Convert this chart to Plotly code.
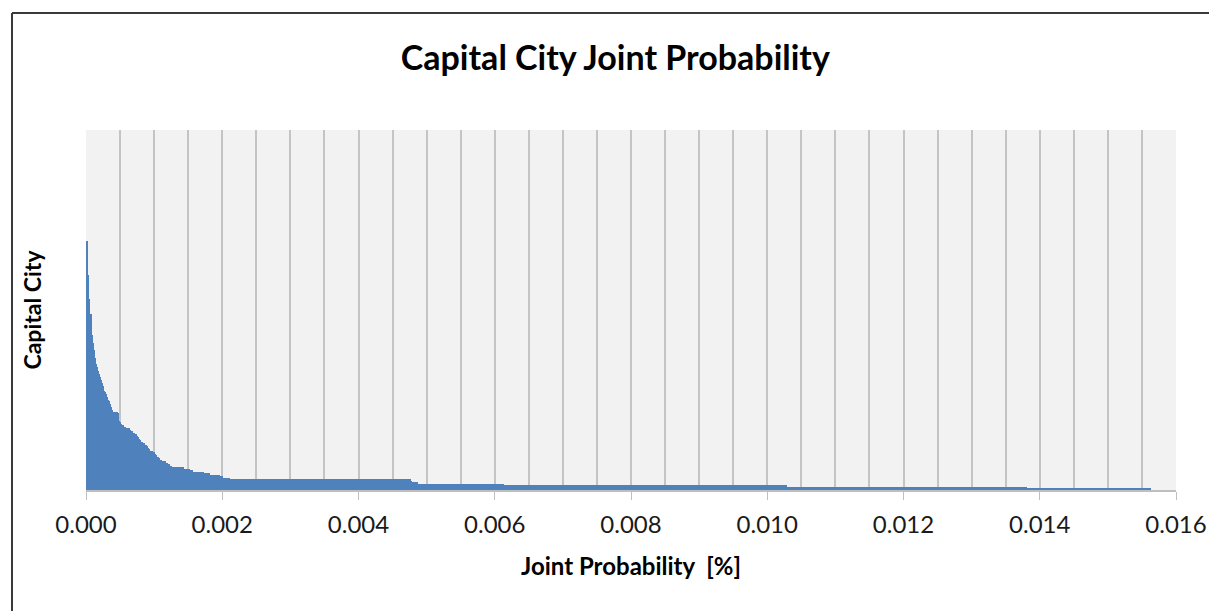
import plotly.graph_objects as go

# Joint probability per capital city, largest first (values in %)
joint_prob = [
    0.01563, 0.01381, 0.01029, 0.00614, 0.00487, 0.00479, 0.00477, 0.00211, 0.00201, 0.00197,
    0.00182, 0.00173, 0.00157, 0.00153, 0.00144, 0.00126, 0.00123, 0.00120, 0.00117, 0.00112,
    0.00109, 0.00107, 0.00104, 0.00103, 0.00101, 0.00098, 0.00094, 0.00092, 0.00091, 0.00090,
    0.00087, 0.00084, 0.00081, 0.00079, 0.00078, 0.00076, 0.00075, 0.00072, 0.00069, 0.00066,
    0.00065, 0.00059, 0.00056, 0.00053, 0.00051, 0.00050, 0.00048, 0.00048, 0.00048, 0.00048,
    0.00048, 0.00047, 0.000396, 0.000385, 0.000377, 0.000370, 0.000364, 0.000357, 0.000346, 0.000336,
    0.000327, 0.000319, 0.000307, 0.000301, 0.000292, 0.000283, 0.000270, 0.000264, 0.000257, 0.000250,
    0.000244, 0.000236, 0.000228, 0.000220, 0.000213, 0.000207, 0.000200, 0.000194, 0.000186, 0.000182,
    0.000176, 0.000170, 0.000163, 0.000157, 0.000154, 0.000150, 0.000145, 0.000141, 0.000137, 0.000134,
    0.000131, 0.000128, 0.000125, 0.000123, 0.000120, 0.000116, 0.000115, 0.000112, 0.000109, 0.000106,
    0.000103, 0.000101, 0.000098, 0.000095, 0.000094, 0.000092, 0.000091, 0.000090, 0.000088, 0.000087,
    0.000087, 0.000085, 0.000085, 0.000084, 0.000084, 0.000082, 0.000081, 0.000062, 0.000062, 0.000060,
    0.000060, 0.000059, 0.000059, 0.000059, 0.000057, 0.000057, 0.000056, 0.000044, 0.000044, 0.000043,
    0.000043, 0.000043, 0.000041, 0.000041, 0.000041, 0.000041, 0.000040, 0.000040, 0.000040, 0.000040,
    0.000040, 0.000038, 0.000038, 0.000029, 0.000029, 0.000028, 0.000028, 0.000028, 0.000028, 0.000026,
    0.000026, 0.000026, 0.000025, 0.000025, 0.000025, 0.000023, 0.000023, 0.000023, 0.000022, 0.000022,
    0.000022, 0.000021, 0.000021, 0.000021, 0.000019, 0.000019,
    0, 0, 0, 0, 0, 0, 0, 0, 0, 0, 0, 0, 0, 0, 0, 0, 0, 0, 0, 0,
    0, 0, 0, 0, 0, 0, 0, 0, 0, 0, 0, 0, 0, 0, 0, 0, 0, 0, 0, 0,
    0, 0, 0, 0, 0, 0, 0, 0, 0, 0, 0, 0, 0, 0, 0, 0, 0, 0, 0, 0,
    0, 0, 0, 0, 0, 0, 0, 0, 0, 0, 0, 0, 0, 0,
]

# Cities are identified by rank (1 = highest joint probability)
city_rank = [f"#{i + 1}" for i in range(len(joint_prob))]

x_ticks = [0.000, 0.002, 0.004, 0.006, 0.008, 0.010, 0.012, 0.014, 0.016]
x_tick_text = [f"{t:.3f}" for t in x_ticks]

FONT = "Lato"
fig = go.Figure(
    go.Bar(
        x=joint_prob,
        y=city_rank,
        orientation="h",
        marker=dict(color="#4f81bd", line=dict(width=0)),
        hovertemplate="%{y}: %{x:.5f}%<extra></extra>",
    )
)

fig.update_layout(
    width=1209,
    height=611,
    margin=dict(l=86, r=33, t=130, b=121),
    paper_bgcolor="white",
    plot_bgcolor="#f2f2f2",
    bargap=0,
    showlegend=False,
    font=dict(family=FONT, color="#000000"),
    title=dict(
        text="<b>Capital City Joint Probability</b>",
        x=0.509,
        xanchor="center",
        y=1 - 58 / 611,
        yanchor="middle",
        yref="container",
        font=dict(family=FONT, size=34, color="#000000"),
    ),
    xaxis=dict(
        range=[0, 0.016],
        automargin=False,
        tickvals=x_ticks,
        ticktext=x_tick_text,
        ticks="outside",
        ticklen=8,
        tickwidth=1,
        tickcolor="#bfbfbf",
        ticklabelstandoff=4,
        tickfont=dict(family=FONT, size=24, color="#1a1a1a"),
        showline=True,
        linecolor="#bfbfbf",
        linewidth=2,
        showgrid=True,
        gridcolor="#c4c4c4",
        gridwidth=1.5,
        minor=dict(dtick=0.0005, tick0=0, showgrid=True, gridcolor="#c4c4c4", gridwidth=1.5, ticks=""),
        zeroline=False,
        fixedrange=True,
        title=dict(
            text="<b>Joint Probability  [%]</b>",
            font=dict(family=FONT, size=24, color="#000000"),
            standoff=21,
        ),
    ),
    yaxis=dict(
        type="category",
        categoryorder="array",
        categoryarray=city_rank,
        range=[-0.5, len(joint_prob) - 0.5],
        automargin=False,
        showticklabels=False,
        ticks="",
        showgrid=False,
        showline=False,
        zeroline=False,
        fixedrange=True,
        title=dict(
            text="<b>Capital City</b>",
            font=dict(family=FONT, size=23, color="#000000"),
            standoff=36,
        ),
    ),
)

# Outer chart frame (top and left edges)
frame_x = (12 - 86) / 1090
frame_top = (490 - 13) / 360
fig.add_shape(type="line", xref="paper", yref="paper", x0=frame_x, x1=frame_x,
              y0=-0.4, y1=frame_top, line=dict(color="#3a3a3a", width=2))
fig.add_shape(type="line", xref="paper", yref="paper", x0=frame_x, x1=1.1,
              y0=frame_top, y1=frame_top, line=dict(color="#3a3a3a", width=2))

fig.write_html("out.html")
